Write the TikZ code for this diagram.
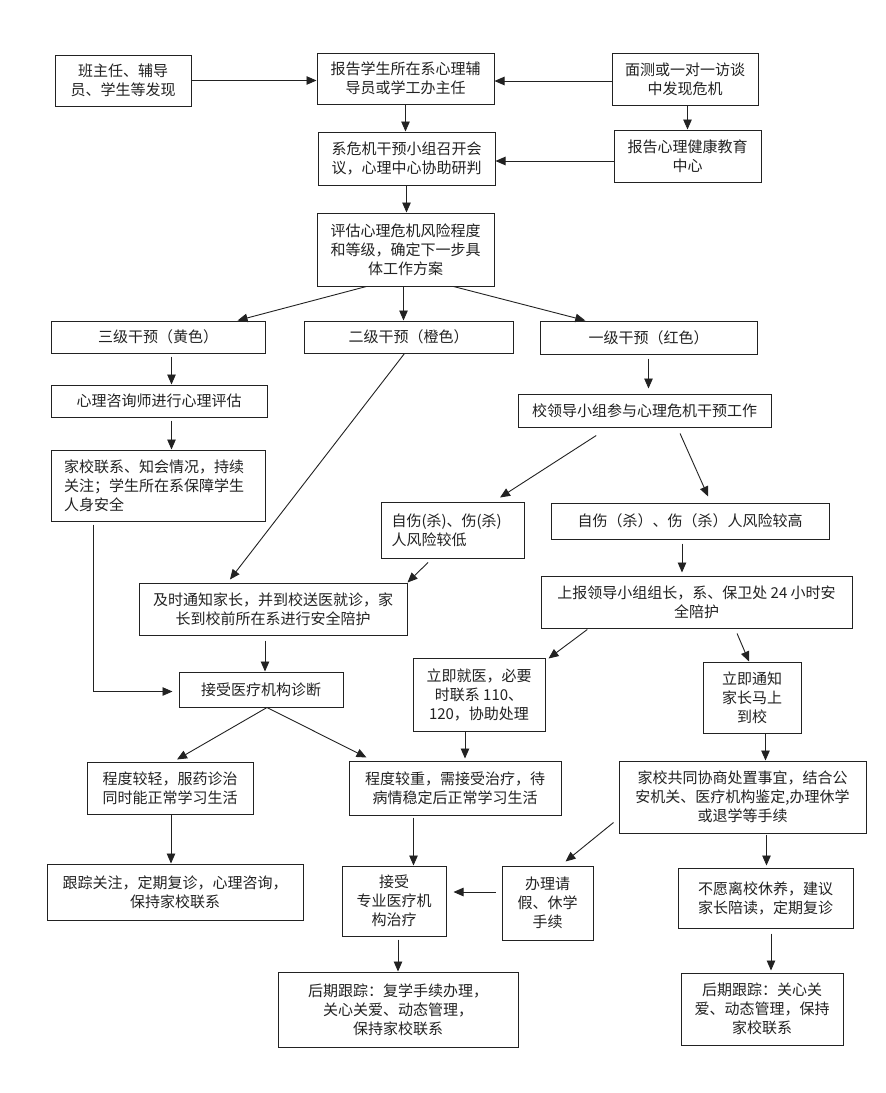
\documentclass[tikz,border=0pt]{standalone}
\usepackage{fontspec}
\newfontfamily\cjk{Noto Sans CJK SC}
\usetikzlibrary{calc,arrows.meta}
\definecolor{ink}{HTML}{222222}
\tikzset{
  box/.style={draw=ink, line width=1pt, inner sep=0pt, align=center, text=ink,
    font=\cjk\fontsize{15}{19}\selectfont},
  arr/.style={draw=ink, line width=0.9pt, -{Triangle[length=10pt,width=8.5pt]}},
}
\newcommand{\bx}[7][]{\node[box,#1, minimum width=#5pt, minimum height=#6pt] (#2) at (#3,#4) {#7};}
\begin{document}
\begin{tikzpicture}[x=1pt,y=-1pt]
\useasboundingbox[fill=white] (0,0) rectangle (886,1093);
% boxes
\bx{A}{123}{80.5}{136}{51}{班主任、辅导\\员、学生等发现}
\bx{B}{405.5}{78.5}{177}{51}{报告学生所在系心理辅\\导员或学工办主任}
\bx{C}{406.5}{158.5}{177}{53}{系危机干预小组召开会\\议，心理中心协助研判}
\bx{D}{405.5}{249.5}{177}{73}{评估心理危机风险程度\\和等级，确定下一步具\\体工作方案}
\bx{E}{685}{79}{146}{52}{面测或一对一访谈\\中发现危机}
\bx{F}{687.5}{156}{147}{52}{报告心理健康教育\\中心}
\bx{G}{158}{337}{214}{32}{三级干预（黄色）}
\bx{H}{408.5}{337}{209}{32}{二级干预（橙色）}
\bx{I}{648.5}{337.5}{217}{33}{一级干预（红色）}
\bx{J}{159}{401}{216}{32}{心理咨询师进行心理评估}
\bx[align=left,text width=188pt]{K}{158}{485.5}{214}{71}{家校联系、知会情况，持续\\关注；学生所在系保障学生\\人身安全}
\bx[align=left,text width=122pt]{L}{452.5}{530}{143}{56}{自伤(杀)、伤(杀)\\人风险较低}
\bx{M}{273}{609}{268}{52}{及时通知家长，并到校送医就诊，家\\长到校前所在系进行安全陪护}
\bx{N}{261}{689.5}{164}{35}{接受医疗机构诊断}
\bx{O}{479}{694.5}{132}{73}{立即就医，必要\\时联系 110、\\120，协助处理}
\bx{P}{644.5}{410.5}{253}{33}{校领导小组参与心理危机干预工作}
\bx{Q}{690}{521}{278}{36}{自伤（杀）、伤（杀）人风险较高}
\bx{R}{696.5}{602}{311}{52}{上报领导小组组长，系、保卫处 24 小时安\\全陪护}
\bx{S}{752}{697.5}{98}{71}{立即通知\\家长马上\\到校}
\bx{T}{170}{788}{166}{52}{程度较轻，服药诊治\\同时能正常学习生活}
\bx{U}{455}{788}{212}{54}{程度较重，需接受治疗，待\\病情稳定后正常学习生活}
\bx{V}{175}{892}{256}{56}{跟踪关注，定期复诊，心理咨询，\\保持家校联系}
\bx{W}{394}{901}{104}{70}{接受\\专业医疗机\\构治疗}
\bx{X}{398}{1009.5}{240}{75}{后期跟踪：复学手续办理，\\关心关爱、动态管理，\\保持家校联系}
\bx{Y}{742.5}{797}{247}{72}{家校共同协商处置事宜，结合公\\安机关、医疗机构鉴定,办理休学\\或退学等手续}
\bx{Z}{547.5}{903}{91}{74}{办理请\\假、休学\\手续}
\bx{AA}{765.5}{898}{175}{60}{不愿离校休养，建议\\家长陪读，定期复诊}
\bx{AB}{762}{1009}{162}{72}{后期跟踪：关心关\\爱、动态管理，保持\\家校联系}
% connectors
\draw[arr] (A.east) -- (A.east -| B.west);
\draw[arr] ($(E.west)+(0,2)$) -- ($(E.west -| B.east)+(0,2)$);
\draw[arr] ($(F.west)+(0,5)$) -- ($(F.west -| C.east)+(0,5)$);
\draw[arr] (F.north |- E.south) -- (F.north);
\draw[arr] (B.south) -- (B.south |- C.north);
\draw[arr] (C.south) -- (C.south |- D.north);
\draw[arr] ($(D.south west)!0.28!(D.south east)$) -- ($(G.north west)!0.87!(G.north east)$);
\draw[arr] ($(D.south)+(-2,0)$) -- ($(D.south |- H.north)+(-2,0)$);
\draw[arr] ($(D.south west)!0.77!(D.south east)$) -- ($(I.north west)!0.21!(I.north east)$);
\coordinate (g1) at ($(G.south west)+(121,3)$);
\draw[arr] (g1) -- (g1 |- J.north);
\coordinate (j1) at ($(J.south west)+(121,3)$);
\draw[arr] (j1) -- (j1 |- K.north);
\draw[arr] ($(K.south west)+(43,3)$) |- ($(N.west)+(-6,2)$);
\coordinate (m1) at ($(M.south)+(-8,5)$);
\draw[arr] (m1) -- (m1 |- N.north);
\draw[arr] ($(H.south)+(-4,0)$) -- ($(M.north west)!0.34!(M.north east)+(0,-3)$);
\draw[arr] ($(I.south)+(0,4)$) -- ($(I.south |- P.north)+(0,-5)$);
\draw[arr] ($(P.south west)!0.31!(P.south east)+(0,8)$) -- ($(L.north west)!0.83!(L.north east)+(0,-4)$);
\draw[arr] ($(P.south west)!0.64!(P.south east)+(0,6)$) -- ($(Q.north west)!0.565!(Q.north east)+(0,-6)$);
\coordinate (q1) at ($(Q.south)+(-8,4)$);
\draw[arr] (q1) -- ($(q1 |- R.north)+(0,-3)$);
\draw[arr] ($(L.south west)!0.33!(L.south east)+(0,4)$) -- (M.north east);
\draw[arr] ($(R.south west)!0.15!(R.south east)+(0,1)$) -- ($(O.north east)+(3,1)$);
\draw[arr] ($(R.south west)!0.63!(R.south east)+(0,5)$) -- ($(S.north west)!0.47!(S.north east)$);
\draw[arr] ($(N.south)+(6,0)$) -- ($(T.north)+(7,-2)$);
\draw[arr] ($(N.south)+(6,0)$) -- ($(U.north west)+(18,-3)$);
\coordinate (o1) at ($(O.south)+(-14,0)$);
\draw[arr] (o1) -- ($(o1 |- U.north)+(0,-2)$);
\draw[arr] ($(T.south)+(1,0)$) -- ($(T.south |- V.north)+(1,0)$);
\coordinate (u1) at ($(U.south west)+(65,2)$);
\draw[arr] (u1) -- (u1 |- W.north);
\coordinate (z1) at ($(Z.west)+(-6,-11)$);
\draw[arr] (z1) -- ($(z1 -| W.east)+(7,0)$);
\draw[arr] ($(X.north |- W.south)+(0,3)$) -- (X.north);
\coordinate (s1) at ($(S.south west)+(63,0)$);
\draw[arr] (s1) -- (s1 |- Y.north);
\draw[arr] ($(Y.south west)+(-5,-11)$) -- ($(Z.north west)+(64,-4)$);
\draw[arr] ($(AA.north |- Y.south)+(1,1)$) -- ($(AA.north)+(1,-2)$);
\coordinate (a1) at ($(AA.south)+(5.5,5)$);
\draw[arr] (a1) -- ($(a1 |- AB.north)+(0,-2)$);
\end{tikzpicture}
\end{document}
